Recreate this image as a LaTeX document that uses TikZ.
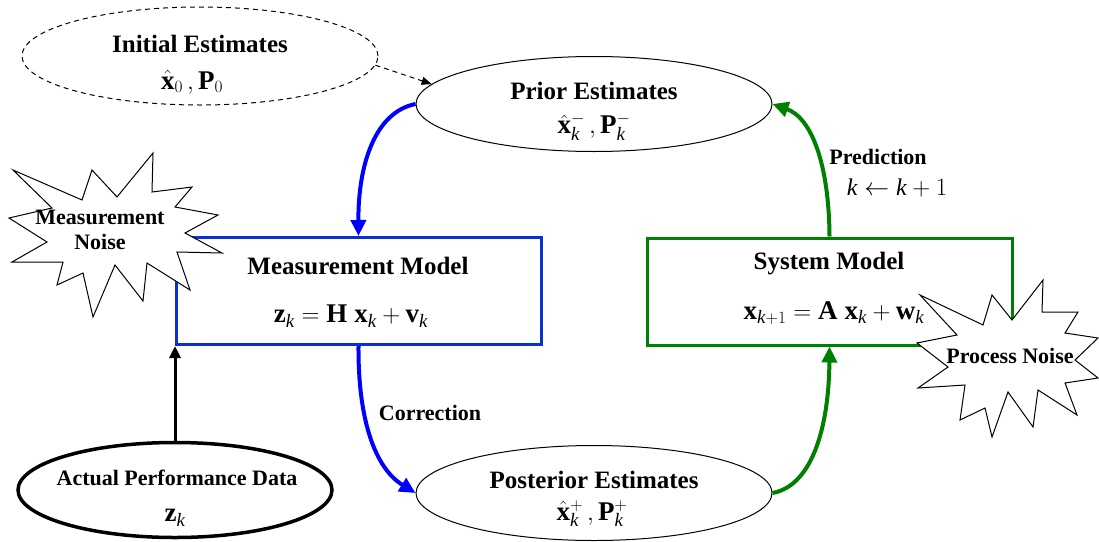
\documentclass[tikz,border=0pt]{standalone}
\usepackage{fontspec}
\setmainfont{Liberation Serif}
\usetikzlibrary{shapes.geometric,arrows.meta}
\definecolor{boxblue}{RGB}{10,50,210}
\definecolor{arrblue}{RGB}{0,0,255}
\definecolor{dgreen}{RGB}{0,128,0}
\begin{document}
\begin{tikzpicture}[x=1pt,y=-1pt,
  ell/.style={ellipse, draw, line width=1pt, minimum width=356pt, minimum height=95pt, inner sep=0pt},
  hd/.style={font=\fontsize{25}{28}\selectfont\bfseries, inner sep=0pt},
  lb/.style={font=\fontsize{22}{25}\selectfont\bfseries, inner sep=0pt, align=center},
  eq/.style={font=\fontsize{27}{30}\selectfont, inner sep=0pt},
  eqs/.style={font=\fontsize{24}{26}\selectfont, inner sep=0pt},
  mbox/.style={draw, line width=3pt, minimum width=365pt, minimum height=107pt, inner sep=0pt},
  bluearr/.style={draw=arrblue, line width=4pt, -{Triangle[length=16pt,width=15pt]}},
  greenarr/.style={draw=dgreen, line width=4pt, -{Triangle[length=16pt,width=15pt]}},
  blackarr/.style={draw=black, line width=3pt, -{Triangle[length=12pt,width=11pt]}},
  burst/.style={draw=black, fill=white, line width=1pt, line join=miter}
]
\useasboundingbox (0,0) rectangle (1099,541);

% boxes
\node[mbox, draw=boxblue] (mm) at (358.5,291) {};
\node[mbox, draw=dgreen] (sm) at (829.5,291.5) {};

% ellipses
\node[ell, dash pattern=on 5pt off 4pt, minimum width=356pt, minimum height=98pt] (init) at (200,56) {};
\node[ell] (prior) at (594,104) {};
\node[ell] (post) at (594,493) {};
\node[ell, line width=3.5pt, minimum width=314pt, minimum height=95pt] (actual) at (175,490) {};

% connectors
\draw[line width=1pt, dash pattern=on 5pt off 4pt, -{Triangle[length=10pt,width=8pt]}] (init.-3) -- (prior.173);
\draw[bluearr] (prior.west) .. controls (375,112) and (358,165) .. (mm.north);
\draw[bluearr] (mm.south) .. controls (358,420) and (375,468) .. (post.west);
\draw[greenarr] (post.east) .. controls (815,485) and (829,420) .. (sm.south);
\draw[greenarr] (sm.north) .. controls (829,165) and (812,118) .. (prior.east);
\draw[blackarr] (actual.north) -- (actual.north |- mm.south);

% starbursts
\draw[burst] (13,170) -- (82,200) -- (92,170) -- (117,197) -- (153,153) -- (152,192)
  -- (192,187) -- (175,207) -- (218,215) -- (185,233) -- (222,253) -- (177,252)
  -- (190,290) -- (147,263) -- (143,301) -- (115,265) -- (93,317) -- (83,273)
  -- (57,285) -- (63,262) -- (12,262) -- (47,242) -- (9,218) -- (52,208) -- cycle;
\draw[burst] (920,295) -- (957,335) -- (917,343) -- (948,367) -- (918,388) -- (965,385)
  -- (960,420) -- (985,408) -- (992,437) -- (1008,392) -- (1033,427) -- (1038,390)
  -- (1077,415) -- (1065,383) -- (1098,378) -- (1075,360) -- (1098,338) -- (1065,333)
  -- (1078,312) -- (1042,312) -- (1043,280) -- (1012,320) -- (992,295) -- (983,325) -- cycle;

% texts
\node[hd] (initT) at (200,44) {Initial Estimates};
\node[eq] (initM) at (192,82) {$\hat{\mathbf{x}}_{0}\,,\mathbf{P}_{0}$};
\node[hd] (priorT) at (594,91) {Prior Estimates};
\node[eq] (priorM) at (594,127) {$\hat{\mathbf{x}}_{\mathit{k}}^{-}\,,\mathbf{P}_{\mathit{k}}^{-}$};
\node[hd] (mmT) at (358,266) {Measurement Model};
\node[eq] (mmM) at (351,316) {$\mathbf{z}_{\mathit{k}} = \mathbf{H}\;\mathbf{x}_{\mathit{k}} + \mathbf{v}_{\mathit{k}}$};
\node[hd] (smT) at (829,264) {System Model};
\node[eq] (smM) at (834,313) {$\mathbf{x}_{\mathit{k}+1} = \mathbf{A}\;\mathbf{x}_{\mathit{k}} + \mathbf{w}_{\mathit{k}}$};
\node[hd] (postT) at (594,480) {Posterior Estimates};
\node[eq] (postM) at (592,514) {$\hat{\mathbf{x}}_{\mathit{k}}^{+}\,,\mathbf{P}_{\mathit{k}}^{+}$};
\node[lb] (actT) at (177,478) {Actual Performance Data};
\node[eq] (actM) at (175,518) {$\mathbf{z}_{\mathit{k}}$};
\node[lb] (corr) at (430,413) {Correction};
\node[lb] (pred) at (878,157) {Prediction};
\node[eqs] (predM) at (897,188) {$\mathit{k}\leftarrow \mathit{k}+1$};
\node[lb] (mnT) at (100,230) {Measurement\\Noise};
\node[lb] (pnT) at (1010,356) {Process Noise};
\end{tikzpicture}
\end{document}
